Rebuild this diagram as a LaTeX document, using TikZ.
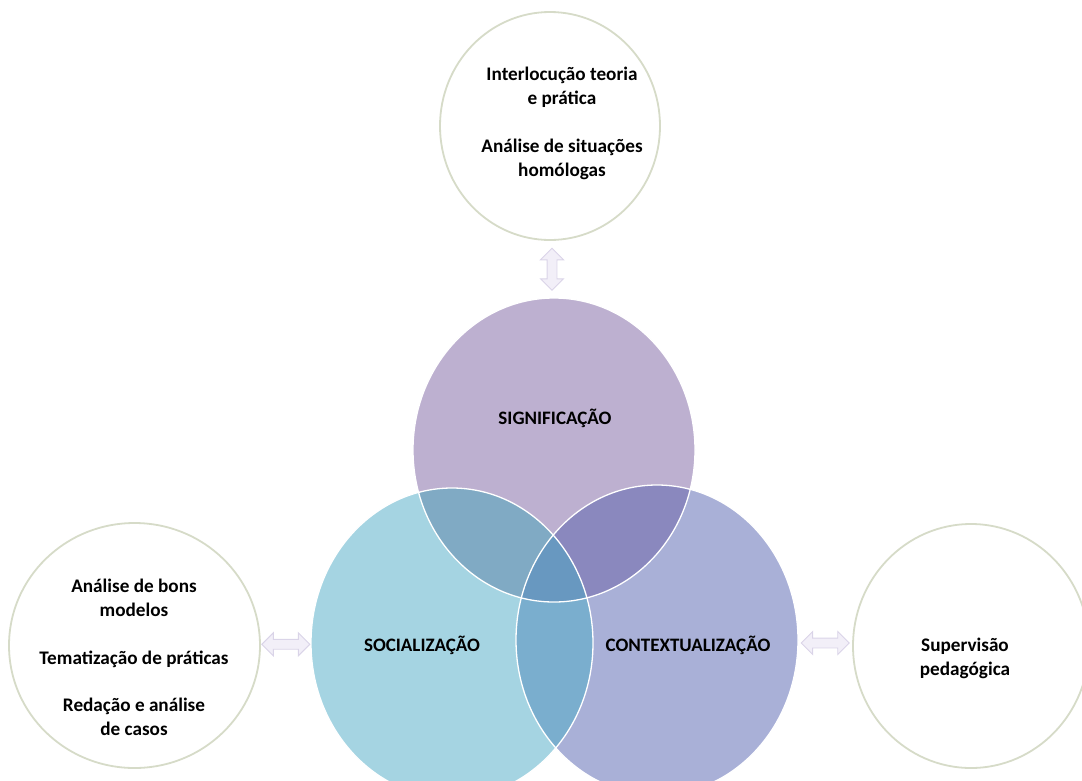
\documentclass[tikz,border=0pt]{standalone}
\usepackage{fontspec}
\setmainfont{Carlito}
\usetikzlibrary{shapes.geometric,shapes.arrows,calc}
\definecolor{sigc}{RGB}{189,176,208}
\definecolor{socc}{RGB}{165,212,226}
\definecolor{conc}{RGB}{169,176,215}
\definecolor{sigsoc}{RGB}{128,170,196}
\definecolor{sigcon}{RGB}{138,136,190}
\definecolor{soccon}{RGB}{122,174,206}
\definecolor{allc}{RGB}{104,152,192}
\definecolor{ringc}{RGB}{214,219,200}
\definecolor{arrf}{RGB}{242,239,248}
\definecolor{arrd}{RGB}{218,212,232}
\begin{document}
\begin{tikzpicture}[x=1pt,y=-1pt,
  venn/.style={ellipse, inner sep=0pt},
  outer/.style={ellipse, inner sep=0pt, draw=ringc, line width=1.8pt, fill=white},
  txt/.style={font=\fontsize{19.2}{24}\selectfont\bfseries, align=center, inner sep=0pt},
  lbl/.style={font=\fontsize{19}{22}\selectfont\bfseries, inner sep=0pt},
  dblarr/.style={double arrow, draw=arrd, fill=arrf, line width=0.9pt,
    inner xsep=0pt, inner ysep=4.5pt, double arrow head extend=6.5pt}]
\useasboundingbox (0,0) rectangle (1082,780);
\clip (0,0) rectangle (1082,780);
% outer circles
\node[outer, minimum width=220pt, minimum height=228pt] (topo) at (550,126) {};
\node[outer, minimum width=251pt, minimum height=245pt] (lefto) at (134.5,645.5) {};
\node[outer, minimum width=236pt, minimum height=244pt] (righto) at (971,646) {};
% venn circles
\node[venn, fill=sigc, minimum width=282pt, minimum height=304pt] (sig) at (554,450) {};
\node[venn, fill=socc, minimum width=282pt, minimum height=310pt] (soc) at (452,643) {};
\node[venn, fill=conc, minimum width=282pt, minimum height=310pt] (con) at (657,640) {};
\begin{scope}
  \clip (554,450) ellipse [x radius=141, y radius=152];
  \fill[sigsoc] (452,643) ellipse [x radius=141, y radius=155];
  \fill[sigcon] (657,640) ellipse [x radius=141, y radius=155];
\end{scope}
\begin{scope}
  \clip (452,643) ellipse [x radius=141, y radius=155];
  \fill[soccon] (657,640) ellipse [x radius=141, y radius=155];
  \clip (657,640) ellipse [x radius=141, y radius=155];
  \fill[allc] (554,450) ellipse [x radius=141, y radius=152];
\end{scope}
\draw[white, line width=1.3pt] (554,450) ellipse [x radius=141, y radius=152];
\draw[white, line width=1.3pt] (452,643) ellipse [x radius=141, y radius=155];
\draw[white, line width=1.3pt] (657,640) ellipse [x radius=141, y radius=155];
% labels
\node[lbl] (sigt) at (555,418) {SIGNIFICAÇÃO};
\node[lbl] (soct) at (422,645) {SOCIALIZAÇÃO};
\node[lbl] (cont) at (688,645) {CONTEXTUALIZAÇÃO};
\node[txt] (topt) at (562,123) {Interlocução teoria\\e prática\\[24pt]Análise de situações\\homólogas};
\node[txt] (leftt) at (134,657) {Análise de bons\\modelos\\[24pt]Tematização de práticas\\[23pt]Redação e análise\\de casos};
\node[txt] (rightt) at (965,658) {Supervisão\\pedagógica};
% arrows
\node[dblarr, minimum height=42pt, rotate=90] (a1) at ($(topo.south)!0.5!(sig.north)$) {};
\node[dblarr, minimum height=48pt] (a2) at ($(lefto.east)!0.5!(soc.west)$) {};
\node[dblarr, minimum height=48pt] (a3) at ($(con.east)!0.5!(righto.west)$) {};
\end{tikzpicture}
\end{document}
